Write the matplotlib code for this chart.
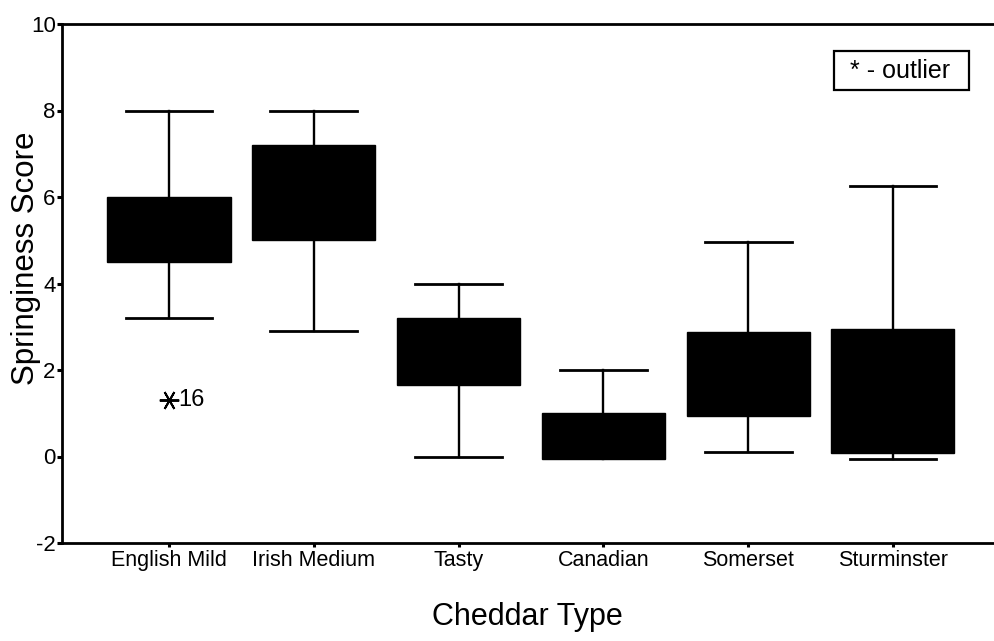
import matplotlib
matplotlib.use("Agg")
import matplotlib.pyplot as plt
from matplotlib.patches import Rectangle

plt.rcParams['font.family'] = ['Liberation Sans', 'DejaVu Sans']

# ---- data ----
categories = ["English Mild", "Irish Medium", "Tasty", "Canadian", "Somerset", "Sturminster"]
whisker_low = [3.2, 2.9, 0.0, -0.03, 0.1, -0.05]
q1_values = [4.5, 5.0, 1.65, -0.05, 0.93, 0.08]
q3_values = [6.0, 7.2, 3.2, 1.0, 2.88, 2.95]
whisker_high = [8.0, 8.0, 4.0, 2.0, 4.95, 6.25]
outlier_values = [[1.3], [], [], [], [], []]
outlier_labels = [["16"], [], [], [], [], []]
y_ticks = [-2, 0, 2, 4, 6, 8, 10]

fig = plt.figure(figsize=(9.94, 6.41), dpi=100)
ax = fig.add_axes([62/994, 1-543/641, 1-62/994, (543-24)/641])

stats = []
for i, name in enumerate(categories):
    stats.append(dict(label=name, whislo=whisker_low[i], q1=q1_values[i],
                      med=q1_values[i], q3=q3_values[i], whishi=whisker_high[i],
                      fliers=outlier_values[i]))

positions = list(range(1, len(categories) + 1))
bp = ax.bxp(stats, positions=positions, widths=0.85, capwidths=0.6, patch_artist=True,
            showfliers=True,
            boxprops=dict(facecolor='black', edgecolor='black', linewidth=1, zorder=3),
            whiskerprops=dict(color='black', linewidth=1.7, zorder=2),
            capprops=dict(color='black', linewidth=2.0, zorder=2),
            medianprops=dict(visible=False),
            flierprops=dict(marker=(6, 2, 90), markersize=14, markeredgecolor='black',
                            markeredgewidth=1.4, linestyle='none'))

for i, (vals, labs) in enumerate(zip(outlier_values, outlier_labels)):
    for v, lab in zip(vals, labs):
        ax.annotate(lab, (positions[i], v), xytext=(6.5, 0), textcoords='offset points',
                    ha='left', va='center', fontsize=17)

ax.set_xlim(0.261, 6.698)
ax.set_ylim(-2, 10)
ax.set_yticks(y_ticks)
ax.set_yticklabels([str(t) for t in y_ticks])
ax.set_xticks(positions)
ax.set_xticklabels(categories)

for s in ['left', 'top', 'bottom']:
    ax.spines[s].set_linewidth(2.0)
ax.spines['right'].set_visible(False)

ax.tick_params(axis='y', direction='out', length=3.5, width=2.2, pad=1, labelsize=16)
ax.tick_params(axis='x', direction='out', length=3, width=2.2, pad=2, labelsize=15.5)

ax.set_ylabel("Springiness Score", fontsize=22.5)
ax.yaxis.set_label_coords(-0.0225, 0.549)
ax.set_xlabel("Cheddar Type", fontsize=22)
ax.xaxis.set_label_coords(0.499, -0.114)

# legend box
fig.patches.append(Rectangle((834/994, 1-90/641), 135/994, 39/641, transform=fig.transFigure,
                             facecolor='white', edgecolor='black', linewidth=1.6))
fig.text(900/994, 1-71/641, "* - outlier", ha='center', va='center', fontsize=18)

fig.savefig("out.png", dpi=100)
